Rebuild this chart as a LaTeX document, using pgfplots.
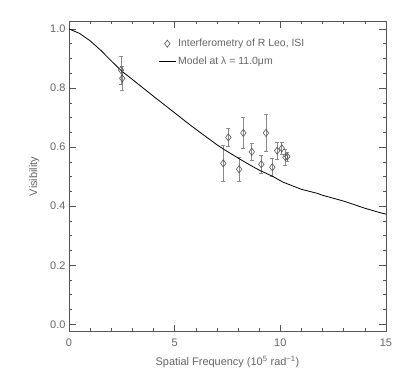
\documentclass[border=0pt]{standalone}
\usepackage{fontspec}
\setmainfont{Liberation Sans}
\usepackage{pgfplots}
\pgfplotsset{compat=1.18}
\definecolor{axisgray}{HTML}{555555}
\definecolor{textgray}{HTML}{666666}
\definecolor{markgray}{HTML}{555555}
\definecolor{errgray}{HTML}{8A8A8A}

\begin{document}
\begin{tikzpicture}
  \useasboundingbox (-69bp,-44.3bp) rectangle (338bp,331.7bp);
  \begin{axis}[
    scale only axis,
    width=317bp, height=310.7bp,
    xmin=0, xmax=15,
    ymin=-0.025, ymax=1.027,
    xtick={0,5,10,15},
    ytick={0,0.2,0.4,0.6,0.8,1.0},
    minor xtick={1,2,3,4,6,7,8,9,11,12,13,14},
    minor ytick={0.05,0.1,0.15,0.25,0.3,0.35,0.45,0.5,0.55,0.65,0.7,0.75,0.85,0.9,0.95},
    yticklabel style={/pgf/number format/.cd,fixed,fixed zerofill,precision=1},
    /pgf/number format/assume math mode=true,
    major tick length=7bp,
    minor tick length=3.5bp,
    tick style={axisgray, line width=0.6pt},
    axis line style={axisgray, line width=0.8pt},
    ticklabel style={color=textgray, font=\fontsize{11}{13}\selectfont},
    xticklabel style={yshift=-4bp},
    label style={color=textgray, font=\fontsize{11}{13}\selectfont},
    xlabel={Spatial Frequency (10\textsuperscript{5} rad\textsuperscript{−1})},
    ylabel={Visibility},
    xlabel style={yshift=-2bp},
    ylabel style={yshift=4bp},
    legend style={
      at={(0.272,0.955)}, anchor=north west,
      draw=none, fill=none,
      font=\fontsize{10.5}{12.5}\selectfont, text=textgray,
      row sep=5bp,
    },
    legend cell align=left,
  ]
  \addplot[
    only marks, mark=diamond, mark size=3.6bp, markgray,
    mark options={line width=0.6pt},
    error bars/.cd, y dir=both, y explicit,
    error bar style={errgray, line width=0.7pt},
    error mark options={rotate=90, mark size=2bp, errgray},
  ] coordinates {
    (2.46,0.861) +- (0,0.048)
    (2.52,0.833) +- (0,0.040)
    (7.30,0.545) +- (0,0.060)
    (7.54,0.633) +- (0,0.030)
    (8.05,0.525) +- (0,0.040)
    (8.25,0.648) +- (0,0.052)
    (8.65,0.584) +- (0,0.030)
    (9.10,0.542) +- (0,0.030)
    (9.32,0.648) +- (0,0.062)
    (9.62,0.532) +- (0,0.031)
    (9.85,0.588) +- (0,0.030)
    (10.07,0.596) +- (0,0.021)
    (10.24,0.566) +- (0,0.028)
    (10.33,0.568) +- (0,0.015)
  };
  \addlegendentry{Interferometry of R Leo, ISI}

  \addplot[black, line width=0.8pt] coordinates {
    (0,1.0) (0.5,0.985) (1.0,0.960) (1.5,0.928) (2.0,0.892) (2.5,0.857)
    (3.0,0.829) (4.0,0.772) (5.0,0.716) (5.73,0.675) (6.2,0.650)
    (7.0,0.608) (7.38,0.590) (8.0,0.563) (8.57,0.539) (9.0,0.522)
    (9.61,0.502) (10.14,0.481) (11.0,0.457) (11.72,0.444) (12.0,0.437)
    (13.0,0.417) (13.3,0.410) (14.0,0.393) (14.72,0.378) (15.0,0.373)
  };
  \addlegendentry{Model at λ = 11.0μm}
  \end{axis}
\end{tikzpicture}
\end{document}
